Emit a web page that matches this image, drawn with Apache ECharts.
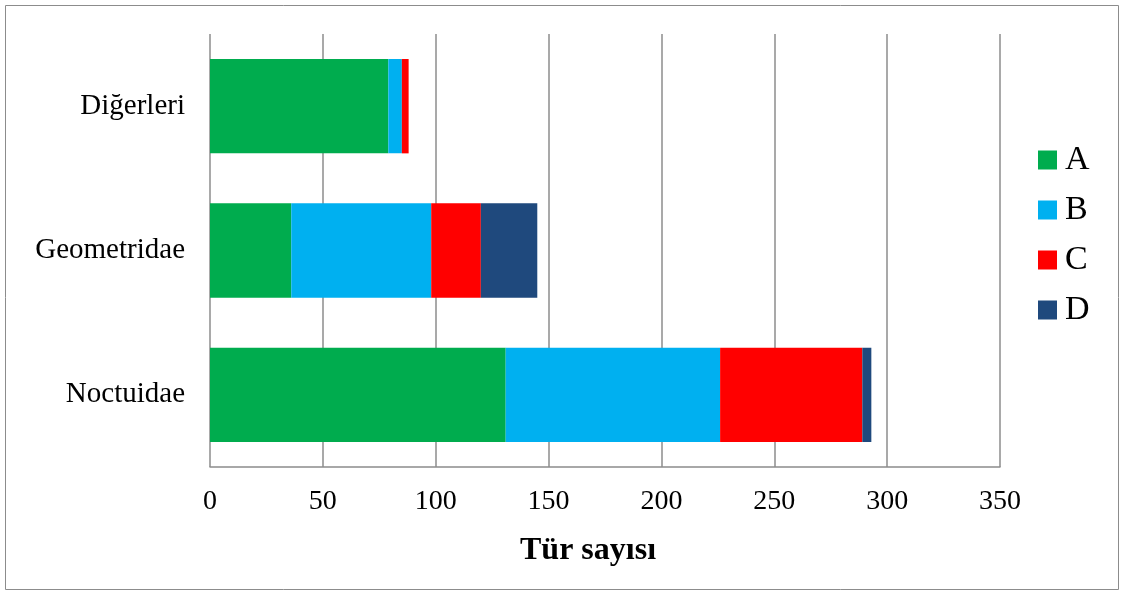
<!DOCTYPE html>
<html><head><meta charset="utf-8">
<script src="https://cdn.jsdelivr.net/npm/echarts@6/dist/echarts.min.js"></script>
<style>html,body{margin:0;padding:0;background:#fff}#c{width:1124px;height:594px}</style>
</head><body><div id="c"></div>
<script>
const categories = ['Noctuidae', 'Geometridae', 'Diğerleri'];
const seriesNames = ['A', 'B', 'C', 'D'];
const valuesA = [131, 36, 79];
const valuesB = [95, 62, 6];
const valuesC = [63, 22, 3];
const valuesD = [4, 25, 0];
const xTicks = { min: 0, max: 350, interval: 50 };
const colors = ['#00AC4E', '#00B0F0', '#FF0000', '#1F497D'];
const allValues = [valuesA, valuesB, valuesC, valuesD];

const chart = echarts.init(document.getElementById('c'));
const font = '"Liberation Serif", "Times New Roman", serif';
chart.setOption({
  animation: false,
  textStyle: { fontFamily: font },
  graphic: [{ type: 'rect', shape: { x: 5.5, y: 5.5, width: 1113, height: 584 }, style: { fill: 'none', stroke: '#8c8c8c', lineWidth: 1 } }],
  grid: { left: 210, right: 124, top: 34, bottom: 127 },
  legend: {
    orient: 'vertical', left: 1038, top: 143, itemWidth: 19, itemHeight: 19, itemGap: 16,
    padding: 0, icon: 'rect',
    data: seriesNames,
    textStyle: { fontFamily: font, fontSize: 34, color: '#000', padding: [0, 0, 0, 3] }
  },
  xAxis: {
    type: 'value', min: xTicks.min, max: xTicks.max, interval: xTicks.interval,
    name: 'Tür sayısı', nameLocation: 'middle', nameGap: 68,
    nameTextStyle: { fontFamily: font, fontSize: 32, fontWeight: 'bold', color: '#000', padding: [0, 34, 0, 0] },
    axisLine: { show: true, lineStyle: { color: '#8c8c8c', width: 1.5 } },
    axisTick: { show: false },
    axisLabel: { fontFamily: font, fontSize: 28, color: '#000', margin: 21 },
    splitLine: { show: true, lineStyle: { color: '#8c8c8c', width: 1.5 } }
  },
  yAxis: {
    type: 'category', data: categories,
    axisLine: { show: false }, axisTick: { show: false },
    axisLabel: { fontFamily: font, fontSize: 29, color: '#000', margin: 25 }
  },
  series: seriesNames.map((n, i) => ({
    name: n, type: 'bar', stack: 'total', barWidth: '65.4%',
    itemStyle: { color: colors[i] },
    data: allValues[i]
  }))
});
</script></body></html>
